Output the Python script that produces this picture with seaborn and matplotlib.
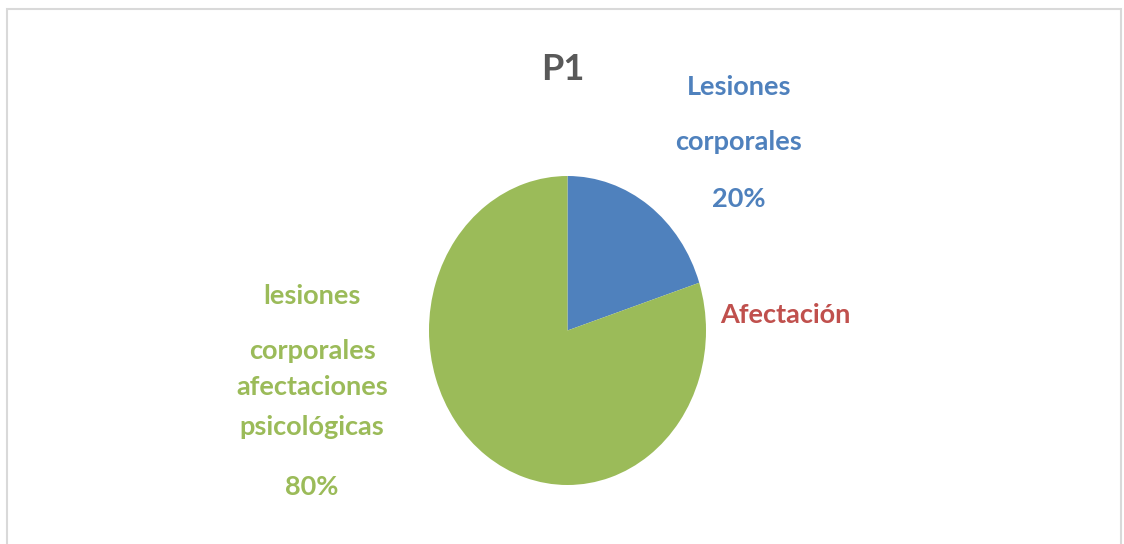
import numpy as np
import matplotlib
matplotlib.use('Agg')
import matplotlib.pyplot as plt
import matplotlib.patches as patches
import seaborn as sns

# data
categories = ['Lesiones corporales', 'Afectación',
              'lesiones corporales afectaciones psicológicas']
values = [20, 0, 80]
colors = ['#4F81BD', '#C0504D', '#9BBB59']

sns.set_theme(style='white')
plt.rcParams['font.family'] = ['Lato', 'DejaVu Sans']

W, H = 1124, 544
fig = plt.figure(figsize=(W / 100, H / 100), dpi=100)
fig.patch.set_facecolor('white')

# chart border
fig.add_artist(patches.Rectangle((7 / W, -0.05), (1121 - 7) / W, 1 - 9 / H + 0.05,
                                 transform=fig.transFigure, fill=False,
                                 edgecolor='#D9D9D9', linewidth=1.5))

def px(x, y):
    return x / W, 1 - y / H

# pie axes (ellipse: 277 px wide, 309 px tall)
left, top, right, bottom = 429, 176, 706, 485
ax = fig.add_axes([left / W, 1 - bottom / H, (right - left) / W, (bottom - top) / H])
pal = sns.color_palette(colors)
ax.pie(values, colors=pal, startangle=90, counterclock=False, radius=1,
       wedgeprops=dict(linewidth=0))
ax.set_aspect('auto')
ax.set_xlim(-1, 1)
ax.set_ylim(-1, 1)
ax.axis('off')

total = sum(values)
pct = [f'{v / total * 100:.0f}%' for v in values]

# title
fig.text(*px(563, 70), 'P1', ha='center', va='center', fontsize=26,
         fontweight='bold', color='#595959')

lab_kw = dict(ha='center', va='center', fontsize=19.5, fontweight='bold')

# blue label
for txt, y in [('Lesiones', 87), ('corporales', 142), (pct[0], 199)]:
    fig.text(*px(739, y), txt, color=colors[0], **lab_kw)

# red label
fig.text(*px(785, 315), 'Afectación', color=colors[1], **lab_kw)

# green label
for txt, y in [('lesiones', 296), ('corporales', 351), ('afectaciones', 387),
               ('psicológicas', 427), (pct[2], 487)]:
    fig.text(*px(312, y), txt, color=colors[2], **lab_kw)

plt.savefig('out.png', dpi=100, facecolor='white')
